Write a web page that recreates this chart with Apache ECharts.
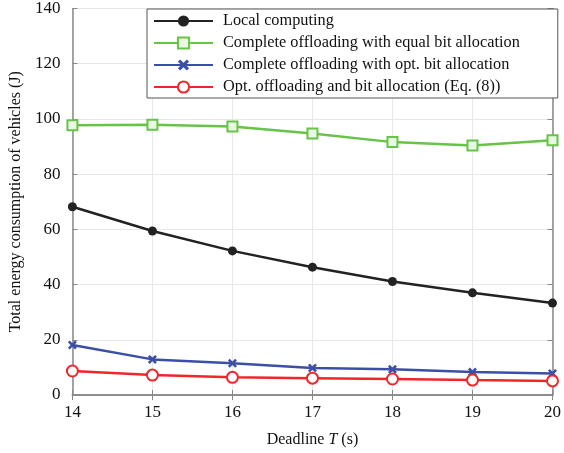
<!DOCTYPE html>
<html>
<head>
<meta charset="utf-8">
<script src="https://cdn.jsdelivr.net/npm/echarts@6/dist/echarts.min.js"></script>
<style>
  html, body { margin: 0; padding: 0; background: #fff; }
  #chart { width: 564px; height: 453px; }
</style>
</head>
<body>
<div id="chart"></div>
<script>
var deadlines = [14, 15, 16, 17, 18, 19, 20];
var localComputing = [68.2, 59.4, 52.2, 46.3, 41.1, 37.0, 33.3];
var equalBit = [97.7, 97.9, 97.3, 94.7, 91.6, 90.4, 92.3];
var optBit = [18.1, 12.9, 11.5, 9.8, 9.3, 8.3, 7.8];
var optOffload = [8.7, 7.2, 6.4, 6.1, 5.8, 5.4, 5.1];
var seriesNames = [
    'Local computing',
    'Complete offloading with equal bit allocation',
    'Complete offloading with opt. bit allocation',
    'Opt. offloading and bit allocation (Eq. (8))'
];

var font = '"Liberation Serif", "Times New Roman", serif';
var crossPath = 'path://M2,0 L5,3 L8,0 L10,2 L7,5 L10,8 L8,10 L5,7 L2,10 L0,8 L3,5 L0,2 Z';

function pairs(vals) {
    return deadlines.map(function (d, i) { return [d, vals[i]]; });
}

var chart = echarts.init(document.getElementById('chart'));

var option = {
    backgroundColor: '#fff',
    animation: false,
    textStyle: { fontFamily: font },
    grid: { left: 71, right: 7, top: 8, bottom: 56 },
    legend: {
        orient: 'vertical',
        left: 147,
        top: 9,
        itemWidth: 59,
        itemHeight: 14,
        itemGap: 6,
        padding: [4, 38, 3, 6],
        backgroundColor: '#fff',
        borderColor: '#555',
        borderWidth: 1,
        textStyle: { fontFamily: font, fontSize: 16.3, color: '#111', padding: [0, 0, 0, 5] },
        data: seriesNames
    },
    xAxis: [{
        type: 'value',
        min: 14,
        max: 20,
        interval: 1,
        name: '{n|Deadline }{i|T}{n| (s)}',
        nameLocation: 'middle',
        nameGap: 37,
        nameTextStyle: {
            rich: {
                n: { fontFamily: font, fontSize: 16, color: '#111' },
                i: { fontFamily: font, fontSize: 16, color: '#111', fontStyle: 'italic' }
            }
        },
        axisLine: { lineStyle: { color: '#888', width: 1.5 } },
        axisTick: { inside: true, length: 5, lineStyle: { color: '#888' } },
        axisLabel: { fontFamily: font, fontSize: 17, color: '#111', margin: 9 },
        splitLine: { show: true, lineStyle: { color: '#e8e8e8' } }
    }, {
        type: 'value',
        position: 'top',
        min: 14,
        max: 20,
        interval: 1,
        axisLine: { lineStyle: { color: '#888', width: 1.5 } },
        axisTick: { inside: true, length: 5, lineStyle: { color: '#888' } },
        axisLabel: { show: false },
        splitLine: { show: false }
    }],
    yAxis: [{
        type: 'value',
        min: 0,
        max: 140,
        interval: 20,
        name: 'Total energy consumption of vehicles (J)',
        nameLocation: 'middle',
        nameGap: 48,
        nameTextStyle: { fontFamily: font, fontSize: 16, color: '#111' },
        axisLine: { show: true, lineStyle: { color: '#888', width: 1.5 } },
        axisTick: { show: true, inside: true, length: 5, lineStyle: { color: '#888' } },
        axisLabel: { fontFamily: font, fontSize: 17, color: '#111', margin: 12 },
        splitLine: { show: true, lineStyle: { color: '#e8e8e8' } }
    }, {
        type: 'value',
        position: 'right',
        min: 0,
        max: 140,
        interval: 20,
        axisLine: { show: true, lineStyle: { color: '#888', width: 1.5 } },
        axisTick: { show: true, inside: true, length: 5, lineStyle: { color: '#888' } },
        axisLabel: { show: false },
        splitLine: { show: false }
    }],
    series: [
        {
            name: seriesNames[0],
            type: 'line',
            data: pairs(localComputing),
            symbol: 'circle',
            symbolSize: 9,
            itemStyle: { color: '#222' },
            lineStyle: { color: '#222', width: 2.5 }
        },
        {
            name: seriesNames[1],
            type: 'line',
            data: pairs(equalBit),
            symbol: 'rect',
            symbolSize: 10,
            itemStyle: { color: '#eaf7e4', borderColor: '#66c447', borderWidth: 2 },
            lineStyle: { color: '#66c447', width: 2.5 }
        },
        {
            name: seriesNames[2],
            type: 'line',
            data: pairs(optBit),
            symbol: crossPath,
            symbolSize: 9,
            itemStyle: { color: '#3b4fa6' },
            lineStyle: { color: '#3b4fa6', width: 2.5 }
        },
        {
            name: seriesNames[3],
            type: 'line',
            data: pairs(optOffload),
            symbol: 'circle',
            symbolSize: 11,
            itemStyle: { color: '#fff', borderColor: '#f0262a', borderWidth: 2 },
            lineStyle: { color: '#f0262a', width: 2.5 }
        }
    ]
};

chart.setOption(option);
</script>
</body>
</html>
